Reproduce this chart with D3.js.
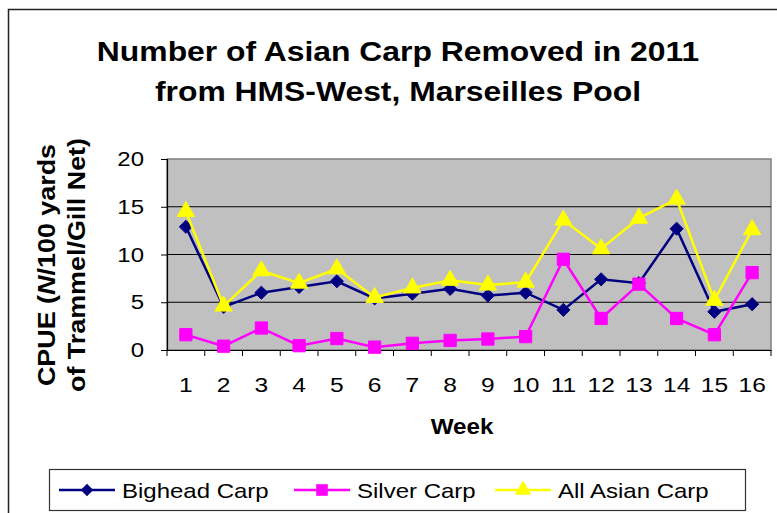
<!DOCTYPE html>
<meta charset="utf-8">
<style>
body { margin: 0; background: #fff; }
text { font-family: Arial, "Liberation Sans", sans-serif; }
</style>
<body>
<script src="https://cdn.jsdelivr.net/npm/d3@7"></script>
<script>

var width = 777,
    height = 513;

var weeks = d3.range(1, 17);
var bighead = [12.9, 4.5, 6.0, 6.6, 7.2, 5.4, 5.9, 6.4, 5.7, 6.0, 4.2, 7.4, 7.0, 12.7, 4.0, 4.8];
var silver = [1.6, 0.4, 2.3, 0.45, 1.2, 0.3, 0.7, 1.0, 1.15, 1.4, 9.5, 3.3, 6.9, 3.3, 1.6, 8.1];
var allCarp = [14.5, 4.6, 8.3, 7.0, 8.5, 5.5, 6.5, 7.3, 6.8, 7.1, 13.6, 10.6, 13.8, 15.8, 5.2, 12.6];
var yTicks = [0, 5, 10, 15, 20];

var series = [
  {name: "Bighead Carp", values: bighead, color: "#000080", shape: d3.symbolDiamond2, size: 110},
  {name: "Silver Carp", values: silver, color: "#FF00FF", shape: d3.symbolSquare, size: 150},
  {name: "All Asian Carp", values: allCarp, color: "#FFFF00", shape: d3.symbolTriangle, size: 130}
];

var plot = {left: 167, right: 771, top: 159, bottom: 350};

var svg = d3.select("body").append("svg")
    .attr("width", width)
    .attr("height", height);

// text in the original is wider than Arial, so stretch it a bit
function label(parent, x, y, size, str, sx, anchor, bold) {
  return parent.append("text")
      .attr("transform", "translate(" + x + "," + y + ") scale(" + sx + ",1)")
      .attr("text-anchor", anchor || "start")
      .attr("font-size", size)
      .attr("font-weight", bold ? "bold" : "normal")
      .text(str);
}

// outer chart border
svg.append("rect")
    .attr("x", 8.5).attr("y", 9.5)
    .attr("width", width).attr("height", height)
    .attr("fill", "none").attr("stroke", "#222").attr("stroke-width", 1.5);

label(svg, 398, 61, 27, "Number of Asian Carp Removed in 2011", 1.18, "middle", true);
label(svg, 398, 101, 27, "from HMS-West, Marseilles Pool", 1.18, "middle", true);

var x = d3.scaleBand().domain(weeks).range([plot.left, plot.right]);
var y = d3.scaleLinear().domain([0, 20]).range([plot.bottom, plot.top]);

svg.append("rect")
    .attr("x", plot.left).attr("y", plot.top)
    .attr("width", plot.right - plot.left).attr("height", plot.bottom - plot.top)
    .attr("fill", "#C0C0C0").attr("stroke", "#808080").attr("stroke-width", 1.5);

svg.append("g").selectAll("line")
    .data(yTicks.filter(function(d) { return d > 0 && d < 20; }))
  .enter().append("line")
    .attr("x1", plot.left).attr("x2", plot.right)
    .attr("y1", function(d) { return y(d); })
    .attr("y2", function(d) { return y(d); })
    .attr("stroke", "#000").attr("stroke-width", 1.2);

var yAxis = svg.append("g")
    .attr("transform", "translate(" + plot.left + ",0)")
    .call(d3.axisLeft(y).tickValues(yTicks).tickSize(6));
yAxis.selectAll("text")
    .attr("font-size", 20.5).attr("font-family", "Arial")
    .attr("x", -23 / 1.17)
    .attr("transform", "scale(1.17,1)");
yAxis.select(".domain").attr("stroke-width", 1.2);

var xAxis = svg.append("g")
    .attr("transform", "translate(0," + plot.bottom + ")")
    .call(d3.axisBottom(x).tickSize(0).tickPadding(27));
xAxis.selectAll("text")
    .attr("font-size", 21).attr("font-family", "Arial")
    .attr("transform", "scale(1.17,1)");
xAxis.select(".domain").attr("stroke-width", 1.2);
xAxis.selectAll("line.sep")
    .data(weeks.concat([17]))
  .enter().append("line")
    .attr("class", "sep")
    .attr("x1", function(d, i) { return plot.left + i * x.bandwidth(); })
    .attr("x2", function(d, i) { return plot.left + i * x.bandwidth(); })
    .attr("y1", 0).attr("y2", 6)
    .attr("stroke", "#000");

label(svg, 462, 434, 22, "Week", 1.1, "middle", true);

var yTitle = svg.append("text")
    .attr("transform", "translate(66,265) rotate(-90) scale(1.17,1)")
    .attr("text-anchor", "middle")
    .attr("font-size", 23).attr("font-weight", "bold");
var l1 = yTitle.append("tspan").attr("x", 0).attr("dy", -11).text("CPUE (");
l1.append("tspan").attr("font-style", "italic").text("N");
l1.append("tspan").text("/100 yards");
yTitle.append("tspan").attr("x", 0).attr("dy", 30).text("of Trammel/Gill Net)");

var line = d3.line()
    .x(function(d, i) { return x(weeks[i]) + x.bandwidth() / 2; })
    .y(function(d) { return y(d); });

series.forEach(function(s) {
  var g = svg.append("g");
  g.append("path")
      .attr("d", line(s.values))
      .attr("fill", "none")
      .attr("stroke", s.color)
      .attr("stroke-width", 2.5);
  g.selectAll("path.m")
      .data(s.values)
    .enter().append("path")
      .attr("class", "m")
      .attr("transform", function(d, i) {
        return "translate(" + (x(weeks[i]) + x.bandwidth() / 2) + "," + y(d) + ")";
      })
      .attr("d", d3.symbol().type(s.shape).size(s.size))
      .attr("fill", s.color)
      .attr("stroke", s.color);
});

// legend
var legend = svg.append("g");
legend.append("rect")
    .attr("x", 49.5).attr("y", 469.5)
    .attr("width", 696).attr("height", 41)
    .attr("fill", "#fff").attr("stroke", "#333").attr("stroke-width", 1.2);

var legendX = [59, 294, 495];
series.forEach(function(s, i) {
  var g = legend.append("g").attr("transform", "translate(" + legendX[i] + ",490)");
  g.append("line").attr("x1", 0).attr("x2", 56)
      .attr("stroke", s.color).attr("stroke-width", 2.5);
  g.append("path")
      .attr("transform", "translate(28,0)")
      .attr("d", d3.symbol().type(s.shape).size(s.size * 0.9))
      .attr("fill", s.color);
  label(g, 63, 7.5, 20, s.name, 1.2);
});

</script>
